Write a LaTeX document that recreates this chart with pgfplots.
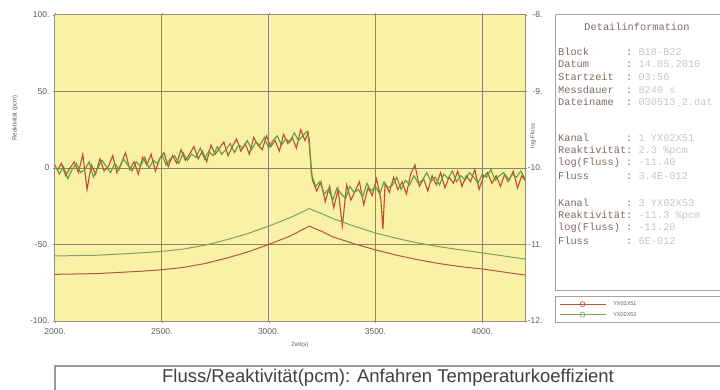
\documentclass[border=0pt]{standalone}
\usepackage{pgfplots}
\pgfplotsset{compat=1.18}
\usepackage{fontspec}
\setmainfont{Liberation Sans}
\newfontfamily\mono{Liberation Mono}
\definecolor{bgy}{HTML}{F8F1A6}
\definecolor{gridc}{HTML}{8F8270}
\definecolor{framec}{HTML}{9C8E7A}
\definecolor{redc}{HTML}{C44A2E}
\definecolor{greenc}{HTML}{5E9E38}
\definecolor{redf}{HTML}{B4563A}
\definecolor{greenf}{HTML}{7FA262}
\definecolor{textc}{HTML}{5E5E5E}
\definecolor{monoc}{HTML}{7D6D5D}
\definecolor{blurc}{HTML}{CDC4C4}
\definecolor{boxc}{HTML}{A8A2A2}

\pgfplotstableread{
t v
2000 2
2020 -4
2040 1
2060 -7
2080 -1
2100 3
2120 -3
2140 -1
2160 4
2180 -6
2200 0
2220 5
2240 1
2260 -3
2280 3
2300 -1
2320 6
2340 2
2360 -2
2380 4
2400 1
2420 7
2440 0
2460 5
2480 3
2500 9
2520 2
2540 6
2560 8
2580 3
2600 10
2620 5
2640 9
2660 7
2680 13
2700 6
2720 11
2740 8
2760 14
2780 9
2800 12
2820 16
2840 10
2860 15
2880 13
2900 18
2920 12
2940 17
2960 15
2980 20
3000 13
3020 18
3040 21
3060 15
3080 19
3100 17
3120 23
3140 18
3160 21
3180 24
3190 19
3200 -4
3220 -12
3240 -9
3260 -17
3280 -14
3300 -21
3320 -13
3340 -17
3360 -20
3380 -12
3400 -16
3420 -14
3440 -19
3460 -10
3480 -15
3500 -12
3520 -17
3540 -9
3560 -13
3580 -11
3600 -6
3620 -14
3640 -8
3660 -11
3680 -5
3700 -10
3720 -8
3740 -3
3760 -9
3780 -6
3800 -11
3820 -4
3840 -7
3860 -2
3880 -9
3900 -5
3920 -8
3940 -3
3960 -6
3980 -10
4000 -4
4020 -6
4040 -1
4060 -8
4080 -5
4100 -3
4120 -9
4140 -4
4160 -6
4180 -2
4200 -7
}\greendata

\pgfplotstableread{
t v
2010 -2
2030 3
2050 -5
2070 0
2090 4
2110 -3
2130 9
2150 -14
2170 2
2190 -4
2210 6
2230 -2
2250 1
2270 8
2290 -3
2310 3
2330 10
2350 -1
2370 4
2390 -4
2410 7
2430 2
2450 9
2470 -2
2490 6
2510 10
2530 1
2550 8
2570 3
2590 12
2610 5
2630 9
2650 14
2670 6
2690 11
2710 4
2730 15
2750 9
2770 13
2790 17
2810 8
2830 14
2850 19
2870 11
2890 16
2910 9
2930 20
2950 15
2970 12
2990 21
3010 14
3030 18
3050 11
3070 22
3090 16
3110 20
3130 13
3150 25
3170 18
3185 23
3205 -8
3225 -15
3245 -9
3265 -22
3285 -12
3305 -26
3325 -14
3345 -38
3365 -11
3385 -21
3405 -15
3425 -9
3445 -24
3465 -13
3485 -18
3505 -7
3525 -20
3535 -40
3545 -10
3565 -16
3585 -6
3605 -14
3625 -9
3645 -17
3665 -4
3685 2
3705 -12
3725 -7
3745 -15
3765 -5
3785 -11
3805 -3
3825 -13
3845 -6
3865 -10
3885 -2
3905 -12
3925 -5
3945 -9
3965 -1
3985 -14
4005 -6
4025 -3
4045 -10
4065 -5
4085 -12
4105 -4
4125 -8
4145 -2
4165 -13
4185 -5
4200 -8
}\reddata

\pgfplotstableread{
t g r
2000 -11.15 -11.39
2200 -11.14 -11.38
2400 -11.11 -11.35
2500 -11.09 -11.33
2600 -11.06 -11.30
2700 -11.01 -11.25
2800 -10.94 -11.18
2900 -10.86 -11.10
3000 -10.76 -11.00
3100 -10.65 -10.89
3190 -10.53 -10.76
3250 -10.60 -10.83
3300 -10.66 -10.90
3400 -10.76 -10.99
3500 -10.85 -11.07
3600 -10.92 -11.14
3700 -10.98 -11.20
3800 -11.03 -11.25
3900 -11.07 -11.29
4000 -11.11 -11.32
4100 -11.15 -11.36
4200 -11.19 -11.40
}\fluxdata

\begin{document}
\begin{tikzpicture}
\useasboundingbox (0pt,0pt) rectangle (720pt,389pt);
\fill[white] (0pt,0pt) rectangle (720pt,389pt);

\begin{axis}[at={(55pt,68pt)}, anchor=south west, width=470pt, height=306pt, scale only axis,
  xmin=2000, xmax=4200, ymin=-100, ymax=100,
  axis background/.style={fill=bgy},
  axis line style={framec, line width=1pt},
  grid=major, major grid style={gridc, line width=1pt},
  xtick={2000,2500,3000,3500,4000}, xticklabels={2000.,2500.,3000.,3500.,4000.},
  ytick={-100,-50,0,50,100}, yticklabels={-100.,-50.,0,50.,100.},
  tick align=outside, major tick length=2pt, tick style={framec},
  ticklabel style={font=\fontsize{8.5}{9}\selectfont, text=textc},
  xticklabel style={yshift=-2pt},
  xlabel={Zeit(s)}, ylabel={Reaktivität (pcm)},
  xlabel style={at={(axis description cs:0.521,-0.078)}, anchor=center, font=\fontsize{6}{7}\selectfont, text=textc},
  ylabel style={at={(axis description cs:-0.085,0.663)}, anchor=center, font=\fontsize{6}{7}\selectfont, text=textc},
  legend style={at={(axis description cs:1.0702,0.0686)}, anchor=north west, draw=none, fill=none,
     font=\fontsize{5.5}{6}\selectfont, text=textc, inner sep=1pt, row sep=4.5pt,
     nodes={inner sep=0.5pt, text height=4pt, text depth=1pt},
     /tikz/every odd column/.append style={column sep=7pt}},
  legend cell align=left,
  legend image code/.code={\draw[mark repeat=2, mark phase=2, #1] plot coordinates {(0pt,0pt) (23pt,0pt) (46pt,0pt)};},
]
\addplot[redc, line width=1.1pt, forget plot] table[x=t,y=v] {\reddata};
\addplot[greenc, line width=1.1pt, forget plot] table[x=t,y=v] {\greendata};
\addlegendimage{redf, line width=0.6pt, mark=o, mark size=2.5pt, mark options={fill=white}}
\addlegendentry{YX02X51}
\addlegendimage{greenf, line width=0.6pt, mark=o, mark size=2.5pt, mark options={fill=white}}
\addlegendentry{YX02X53}
\end{axis}

\begin{axis}[at={(55pt,68pt)}, anchor=south west, width=470pt, height=306pt, scale only axis,
  xmin=2000, xmax=4200, ymin=-12, ymax=-8,
  axis x line=none, axis y line*=right,
  axis line style={framec, line width=1pt},
  ytick={-12,-11,-10,-9,-8}, yticklabels={-12.,-11.,-10.,-9.,-8.},
  tick align=outside, major tick length=2pt, tick style={framec},
  ticklabel style={font=\fontsize{8.5}{9}\selectfont, text=textc},
  yticklabel style={anchor=east, xshift=19pt},
  ylabel={log-Fluss},
  ylabel style={at={(axis description cs:1.017,0.605)}, anchor=center, font=\fontsize{6}{7}\selectfont, text=textc},
]
\addplot[greenf, line width=1pt] table[x=t,y=g] {\fluxdata};
\addplot[redf, line width=1pt] table[x=t,y=r] {\fluxdata};
\end{axis}

% Detail panel
\draw[boxc, line width=1pt] (555pt,99pt) rectangle (723pt,374pt);
\begin{scope}
\clip (556pt,100pt) rectangle (720pt,373pt);
\begin{scope}[every node/.style={anchor=west, inner sep=0pt, font=\mono\fontsize{10.3}{11}\selectfont, text=monoc}]
\node[anchor=center] at (637pt,362pt) {Detailinformation};
\node at (558pt,337pt) {\makebox[68pt][l]{Block}:\ \textcolor{blurc}{B18-B22}};
\node at (558pt,325pt) {\makebox[68pt][l]{Datum}:\ \textcolor{blurc}{14.05.2010}};
\node at (558pt,312pt) {\makebox[68pt][l]{Startzeit}:\ \textcolor{blurc}{03:56}};
\node at (558pt,299pt) {\makebox[68pt][l]{Messdauer}:\ \textcolor{blurc}{8240 s}};
\node at (558pt,287pt) {\makebox[68pt][l]{Dateiname}:\ \textcolor{blurc}{030513\_2.dat}};
\node at (558pt,251pt) {\makebox[68pt][l]{Kanal}:\ \textcolor{blurc}{1 YX02X51}};
\node at (558pt,238pt) {\makebox[68pt][l]{Reaktivität}:\ \textcolor{blurc}{2.3 \%pcm}};
\node at (558pt,226pt) {\makebox[68pt][l]{log(Fluss)}:\ \textcolor{blurc}{-11.40}};
\node at (558pt,213pt) {\makebox[68pt][l]{Fluss}:\ \textcolor{blurc}{3.4E-012}};
\node at (558pt,186pt) {\makebox[68pt][l]{Kanal}:\ \textcolor{blurc}{3 YX02X53}};
\node at (558pt,173pt) {\makebox[68pt][l]{Reaktivität}:\ \textcolor{blurc}{-11.3 \%pcm}};
\node at (558pt,161pt) {\makebox[68pt][l]{log(Fluss)}:\ \textcolor{blurc}{-11.20}};
\node at (558pt,148pt) {\makebox[68pt][l]{Fluss}:\ \textcolor{blurc}{6E-012}};
\end{scope}
\end{scope}
% legend box
\draw[boxc, line width=1pt] (555pt,67pt) rectangle (723pt,93pt);
% title box
\draw[gray!80, line width=1.5pt] (55pt,-2pt) rectangle (723pt,23pt);
\node[text=black!75, font=\fontsize{18.5}{20}\selectfont] at (388pt,11pt) {Fluss/Reaktivität(pcm): Anfahren Temperaturkoeffizient};
\end{tikzpicture}
\end{document}
